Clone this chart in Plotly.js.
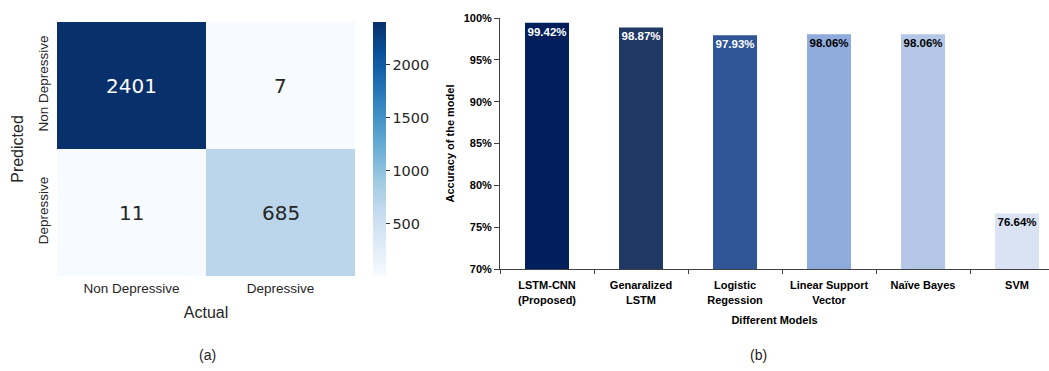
<!DOCTYPE html>
<html>
<head>
<meta charset="utf-8">
<script src="https://cdn.plot.ly/plotly-3.0.1.min.js"></script>
<style>
html,body{margin:0;padding:0;background:#fff;}
#chart{width:1049px;height:371px;}
</style>
</head>
<body>
<div id="chart"></div>
<script>
// Confusion matrix (a)
const cmActual = ['Non Depressive', 'Depressive'];
const cmPredicted = ['Non Depressive', 'Depressive'];
const cmValues = [[2401, 7], [11, 685]];
const cbTicks = [500, 1000, 1500, 2000];

// Model accuracy (b)
const models = ['LSTM-CNN<br>(Proposed)', 'Genaralized<br>LSTM', 'Logistic<br>Regession', 'Linear Support<br>Vector', 'Naïve Bayes', 'SVM'];
const accuracy = [99.42, 98.87, 97.93, 98.06, 98.06, 76.64];
const barColors = ['#011f5b', '#203864', '#2f5597', '#8faadc', '#b4c7e7', '#dae3f3'];
const labelColors = ['#ffffff', '#ffffff', '#ffffff', '#000000', '#000000', '#000000'];
const yTicks = [70, 75, 80, 85, 90, 95, 100];

const blues = [
  [0, '#f7fbff'], [0.125, '#deebf7'], [0.25, '#c6dbef'], [0.375, '#9ecae1'],
  [0.5, '#6baed6'], [0.625, '#4292c6'], [0.75, '#2171b5'], [0.875, '#08519c'], [1, '#08306b']
];

const heat = {
  type: 'heatmap',
  x: cmActual,
  y: cmPredicted,
  z: cmValues,
  xaxis: 'x', yaxis: 'y',
  colorscale: blues,
  hoverinfo: 'skip',
  colorbar: {
    x: 373/1049, xanchor: 'left',
    y: 1 - 149/371, yanchor: 'middle',
    len: 254, lenmode: 'pixels',
    thickness: 13, thicknessmode: 'pixels',
    outlinewidth: 0,
    tickvals: cbTicks,
    ticks: 'outside', ticklen: 4, tickcolor: '#333',
    tickfont: {family: 'DejaVu Sans', size: 14.5, color: '#262626'},
    xpad: 0, ypad: 0
  }
};

const bars = {
  type: 'bar',
  x: models,
  y: accuracy,
  xaxis: 'x2', yaxis: 'y2',
  marker: {color: barColors},
  texttemplate: '%{y:.2f}%',
  textposition: 'inside',
  insidetextanchor: 'end',
  textangle: 0,
  constraintext: 'none',
  textfont: {family: 'Liberation Sans', size: 11.5, color: labelColors, weight: 'bold'},
  hoverinfo: 'skip'
};

const boldFont = {family: 'Liberation Sans', size: 11, color: '#000', weight: 'bold'};

// cell labels of the confusion matrix, built from the data arrays
const zMax = Math.max(...cmValues.flat());
const cellLabels = [];
cmValues.forEach((row, i) => row.forEach((v, j) => {
  cellLabels.push({
    x: cmActual[j], y: cmPredicted[i], xref: 'x', yref: 'y',
    text: String(v), showarrow: false,
    font: {family: 'DejaVu Sans', size: 20, color: v > zMax / 2 ? '#ffffff' : '#262626'}
  });
}));

const layout = {
  width: 1049, height: 371,
  autosize: false,
  margin: {l: 0, r: 0, t: 0, b: 0},
  paper_bgcolor: '#fff', plot_bgcolor: '#fff',
  showlegend: false,
  xaxis: {
    domain: [57/1049, 355/1049], anchor: 'y',
    type: 'category', showgrid: false, zeroline: false, showline: false, ticks: '',
    tickfont: {family: 'Liberation Sans', size: 13.5, color: '#262626'},
    ticklabelstandoff: 2,
    title: {text: 'Actual', font: {family: 'Liberation Sans', size: 16, color: '#262626'}, standoff: 12}
  },
  yaxis: {
    domain: [1 - 276/371, 1 - 22/371], anchor: 'x',
    type: 'category', autorange: 'reversed', showgrid: false, zeroline: false, showline: false, ticks: '',
    tickangle: -90,
    tickfont: {family: 'Liberation Sans', size: 13.5, color: '#262626'},
    ticklabelstandoff: 5,
    title: {text: 'Predicted', font: {family: 'Liberation Sans', size: 16, color: '#262626'}, standoff: 8}
  },
  xaxis2: {
    domain: [500/1049, 1], anchor: 'y2',
    type: 'category', range: [-0.5, 5.34],
    showline: true, linecolor: '#404040', linewidth: 1,
    ticks: 'outside', tickson: 'boundaries', ticklen: 4, tickcolor: '#404040',
    showgrid: false, zeroline: false,
    tickfont: boldFont,
    ticklabelstandoff: 6,
    title: {text: 'Different Models', font: boldFont, standoff: 11}
  },
  yaxis2: {
    domain: [1 - 269/371, 1 - 18/371], anchor: 'x2',
    range: [70, 100], tickvals: yTicks, ticktext: yTicks.map(v => v + '%'),
    showline: true, linecolor: '#404040', linewidth: 1,
    ticks: 'outside', ticklen: 5, tickcolor: '#404040',
    showgrid: false, zeroline: false,
    tickfont: boldFont,
    title: {text: 'Accuracy of the model', font: boldFont, standoff: 6}
  },
  bargap: 0.532,
  annotations: cellLabels.concat([
    {text: '(a)', xref: 'paper', yref: 'paper', x: 207/1049, y: 1 - 355/371, xanchor: 'center', yanchor: 'middle', showarrow: false,
     font: {family: 'Liberation Sans', size: 14, color: '#222'}},
    {text: '(b)', xref: 'paper', yref: 'paper', x: 758/1049, y: 1 - 355/371, xanchor: 'center', yanchor: 'middle', showarrow: false,
     font: {family: 'Liberation Sans', size: 14, color: '#222'}}
  ])
};

Plotly.newPlot('chart', [heat, bars], layout, {displayModeBar: false, staticPlot: true});
</script>
</body>
</html>
